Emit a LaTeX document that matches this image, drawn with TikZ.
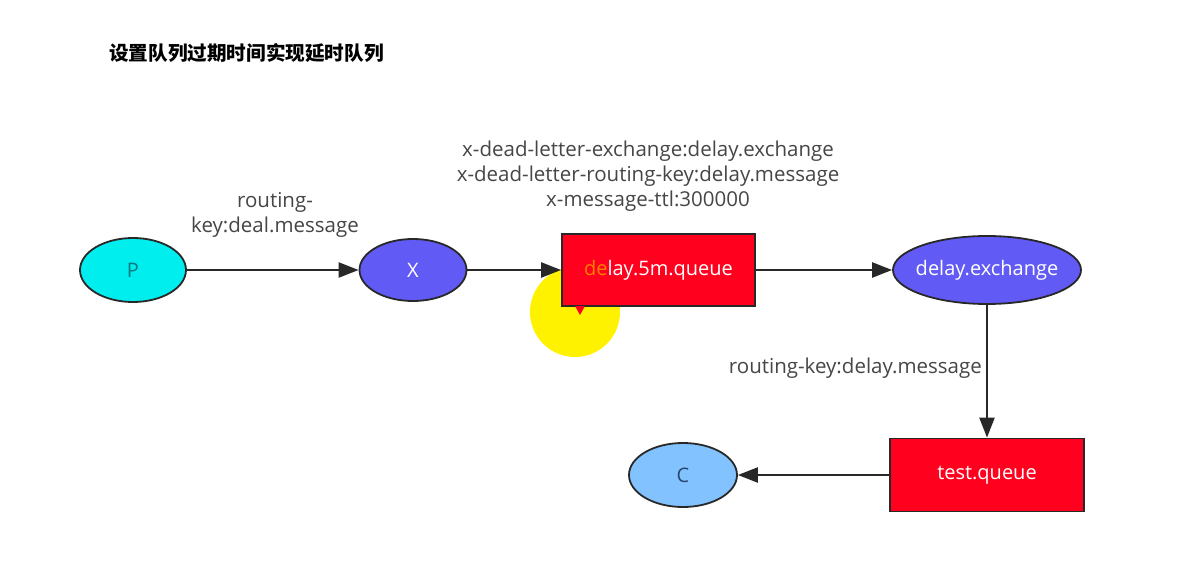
\documentclass[tikz,border=0pt]{standalone}
\usepackage{fontspec}
\setmainfont{Open Sans}
\newfontfamily\cjk{Noto Sans CJK SC}
\usetikzlibrary{arrows.meta,shapes.geometric}
\definecolor{cyanfill}{RGB}{0,238,238}
\definecolor{purplefill}{RGB}{98,90,245}
\definecolor{redfill}{RGB}{255,0,30}
\definecolor{cfill}{RGB}{130,195,255}
\definecolor{txtgray}{RGB}{70,70,70}
\definecolor{edge}{RGB}{40,40,40}
\tikzset{
  ell/.style={ellipse,draw=edge,line width=1.8pt,inner sep=0pt,font=\fontsize{20}{24}\selectfont},
  qbox/.style={rectangle,draw=edge,line width=1.8pt,fill=redfill,text=white,font=\fontsize{20}{24}\selectfont},
  conn/.style={draw=edge,line width=2.4pt,-{Triangle[length=20pt,width=15pt]}},
  lbl/.style={text=txtgray,font=\fontsize{20.5}{25}\selectfont,align=center,inner sep=0pt}
}
\begin{document}
\begin{tikzpicture}[x=1pt,y=-1pt]
\useasboundingbox[fill=white] (0,0) rectangle (1200,564);
\node[anchor=west,text=black,font=\cjk\bfseries\fontsize{19.6}{22}\selectfont,inner sep=0pt] (title) at (109,53) {设置队列过期时间实现延时队列};
\fill[yellow] (575,312) circle (45);
\node[ell,fill=cyanfill,text={rgb,255:red,0;green,120;blue,130},minimum width=106pt,minimum height=64pt] (P) at (133,270) {P};
\node[ell,fill=purplefill,text=white,minimum width=107pt,minimum height=62pt] (X) at (413,270) {X};
\node[qbox,minimum width=193pt,minimum height=72pt] (Q) at (658.5,270) {\textcolor{orange}{de}lay.5m.queue};
\fill[redfill] (575,306) -- (585,306) -- (580,315) -- cycle;
\node[ell,fill=purplefill,text=white,minimum width=188pt,minimum height=68pt] (E) at (987,270) {\makebox[0pt]{delay.exchange}};
\node[qbox,minimum width=194pt,minimum height=73pt] (T) at (987,475) {test.queue};
\node[ell,fill=cfill,text={rgb,255:red,40;green,70;blue,110},minimum width=108pt,minimum height=64pt] (C) at (683,475) {C};
\draw[conn] (P) -- (X);
\draw[conn] (X) -- (Q);
\draw[conn] (Q) -- (E);
\draw[conn] (E) -- (T);
\draw[conn] (T) -- (C);
\node[lbl] (l1) at (275,215) {routing-\\key:deal.message};
\node[lbl] (l2) at (648,176) {x-dead-letter-exchange:delay.exchange\\x-dead-letter-routing-key:delay.message\\x-message-ttl:300000};
\node[lbl,anchor=east] (l3) at (982,368) {routing-key:delay.message};
\end{tikzpicture}
\end{document}
